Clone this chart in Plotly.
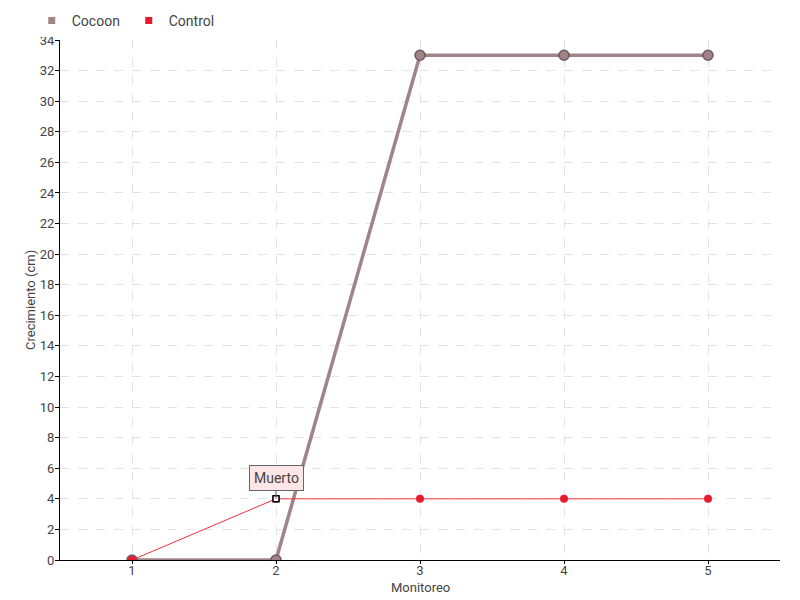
import plotly.graph_objects as go

x_vals = [1, 2, 3, 4, 5]
cocoon = [0, 0, 33, 33, 33]
control = [0, 4, 4, 4, 4]
y_ticks = list(range(0, 35, 2))

FONT = "Roboto, sans-serif"
C_COCOON = "#a08488"
C_CONTROL = "#e8192c"
TXT = "#444"

fig = go.Figure()
fig.add_trace(go.Scatter(
    x=x_vals, y=cocoon, name="Cocoon", mode="lines+markers", showlegend=False,
    line=dict(color=C_COCOON, width=3.5),
    marker=dict(size=10, color=C_COCOON, line=dict(color="#6e5a5e", width=1.5)),
))
fig.add_trace(go.Scatter(
    x=x_vals, y=control, name="Control", mode="lines+markers", showlegend=False,
    line=dict(color="#f0303f", width=1),
    marker=dict(size=8, color=C_CONTROL, line=dict(width=0)),
))
# special marker on dead point
fig.add_trace(go.Scatter(
    x=[x_vals[1]], y=[control[1]], mode="markers", showlegend=False,
    marker=dict(size=6, color="white", symbol="square", line=dict(color="black", width=1.5)),
    hoverinfo="skip",
))
# legend-only entries (square symbols)
fig.add_trace(go.Scatter(x=[None], y=[None], name="Cocoon", mode="markers",
                         marker=dict(size=7, symbol="square", color=C_COCOON)))
fig.add_trace(go.Scatter(x=[None], y=[None], name="Control", mode="markers",
                         marker=dict(size=7, symbol="square", color=C_CONTROL)))

fig.add_annotation(
    x=x_vals[1], y=control[1], text="Muerto", showarrow=True, arrowhead=0,
    arrowwidth=1, arrowcolor="#666", ax=0, ay=-21,
    bgcolor="#fde6e6", bordercolor="#666", borderwidth=1, borderpad=4,
    font=dict(family=FONT, size=14, color=TXT),
)
# axis titles
fig.add_annotation(xref="paper", yref="paper", x=0.5, y=0, yshift=-27,
                   text="Monitoreo", showarrow=False, yanchor="middle",
                   font=dict(family=FONT, size=13, color=TXT))
fig.add_annotation(xref="paper", yref="paper", x=0, y=0.5, xshift=-30,
                   text="Crecimiento (cm)", showarrow=False, textangle=-90,
                   xanchor="center", yanchor="middle",
                   font=dict(family=FONT, size=13, color=TXT))

# figure is placed 8px from the page's top-left corner (body margin)
fig.update_layout(
    width=792, height=592,
    paper_bgcolor="white", plot_bgcolor="white",
    margin=dict(l=52, r=20, t=32, b=40, autoexpand=False),
    font=dict(family=FONT, size=13, color=TXT),
    legend=dict(orientation="h", xref="container", yref="container",
                x=0.03, xanchor="left", y=0.978, yanchor="middle",
                font=dict(size=14, color=TXT), itemwidth=30,
                entrywidth=52, tracegroupgap=0),
    showlegend=True,
)
fig.update_xaxes(
    range=[0.5, 5.5], tickvals=x_vals, ticktext=[str(v) for v in x_vals],
    showgrid=True, gridcolor="#e2e2e2", griddash="dash",
    showline=True, linecolor="black", linewidth=1,
    ticks="outside", ticklen=3, tickcolor="black",
    ticklabelstandoff=-5,
    zeroline=False, automargin=False,
)
fig.update_yaxes(
    range=[0, 34], tickvals=y_ticks,
    showgrid=True, gridcolor="#e2e2e2", griddash="dash",
    showline=True, linecolor="black", linewidth=1,
    ticks="outside", ticklen=4, tickcolor="black",
    ticklabelstandoff=-2,
    zeroline=False, automargin=False,
)

fig.write_html("out.html")
